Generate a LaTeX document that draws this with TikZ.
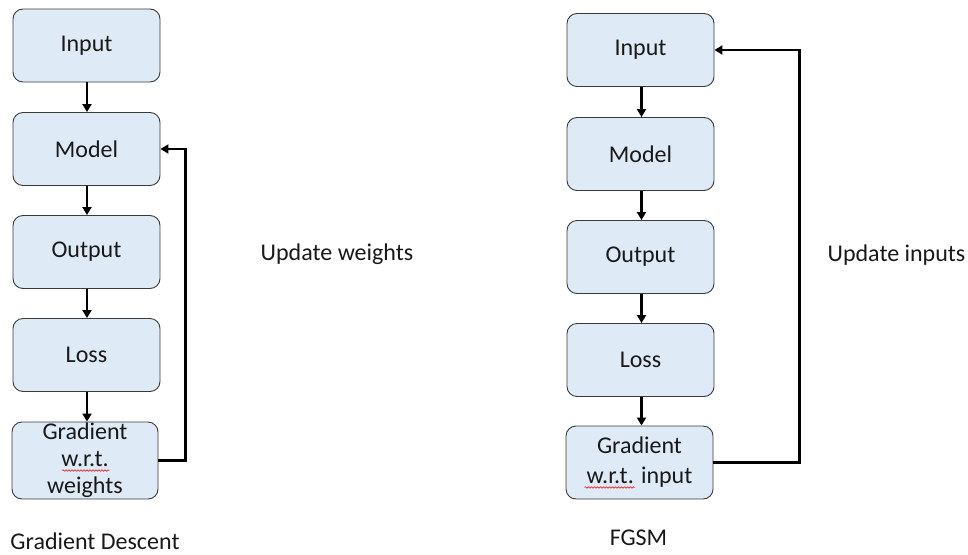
\documentclass[tikz,border=0pt]{standalone}
\usepackage{fontspec}
\setmainfont{Carlito}
\usetikzlibrary{arrows.meta,calc,decorations.pathmorphing}
\definecolor{boxfill}{HTML}{DEEAF6}
\definecolor{boxline}{HTML}{3A3A3A}
\tikzset{
  stepbox/.style={draw=boxline, line width=0.9pt, fill=boxfill, rounded corners=10pt,
    minimum width=147pt, minimum height=73pt, inner sep=0pt, align=center,
    font=\fontsize{24}{28}\selectfont, text=black!90},
  flow/.style={line width=2.8pt, -{Triangle[length=8pt,width=9pt]}},
  fb/.style={line width=2.8pt, -{Triangle[length=8pt,width=9pt]}},
  lbl/.style={font=\fontsize{24}{28}\selectfont, text=black!90, inner sep=0pt},
  spell/.style={red, line width=0.5pt, decorate, decoration={snake, segment length=3pt, amplitude=0.8pt}}
}
\begin{document}
\begin{tikzpicture}[x=1pt,y=-1pt]
\useasboundingbox (0,0) rectangle (968,554);
% left column
\node[stepbox] (li) at (86.5,45.5) {Input};
\node[stepbox] (lm) at (86.5,149) {Model};
\node[stepbox] (lo) at (86.5,252) {Output};
\node[stepbox] (ll) at (86.5,355) {Loss};
\node[stepbox, minimum width=146pt, minimum height=77pt, font=\fontsize{24}{27}\selectfont] (lg) at (85,460.5) {Gradient\\w.r.t.\\weights};
\draw[flow] (li.south -| 87,0) -- (lm.north -| 87,0);
\draw[flow] (lm.south -| 87,0) -- (lo.north -| 87,0);
\draw[flow] (lo.south -| 87,0) -- (ll.north -| 87,0);
\draw[flow] (ll.south -| 87,0) -- (lg.north -| 87,0);
\draw[fb] (lg.east) -- ++(27,0) |- (lm.east);
\draw[spell] ($(lg.center)+(-23,10)$) -- ($(lg.center)+(24,10)$);
% right column
\node[stepbox] (ri) at (640.5,50) {Input};
\node[stepbox] (rm) at (640.5,154) {Model};
\node[stepbox] (ro) at (640.5,257) {Output};
\node[stepbox] (rl) at (640.5,360) {Loss};
\node[stepbox, font=\fontsize{24}{30}\selectfont] (rg) at (639.5,462.5) {Gradient\\w.r.t. input};
\draw[flow] (ri.south -| 641.5,0) -- (rm.north -| 641.5,0);
\draw[flow] (rm.south -| 641.5,0) -- (ro.north -| 641.5,0);
\draw[flow] (ro.south -| 641.5,0) -- (rl.north -| 641.5,0);
\draw[flow] (rl.south -| 641.5,0) -- (rg.north -| 641.5,0);
\draw[fb] (rg.east) -- ++(86,0) |- (ri.east);
\draw[spell] ($(rg.center)+(-55,25)$) -- ($(rg.center)+(-5,25)$);
% labels
\node[lbl] (uw) at (337,254) {Update weights};
\node[lbl] (ui) at (896.5,255) {Update inputs};
\node[lbl] (gd) at (95,541) {Gradient Descent};
\node[lbl] (fg) at (638.5,538) {FGSM};
\end{tikzpicture}
\end{document}
